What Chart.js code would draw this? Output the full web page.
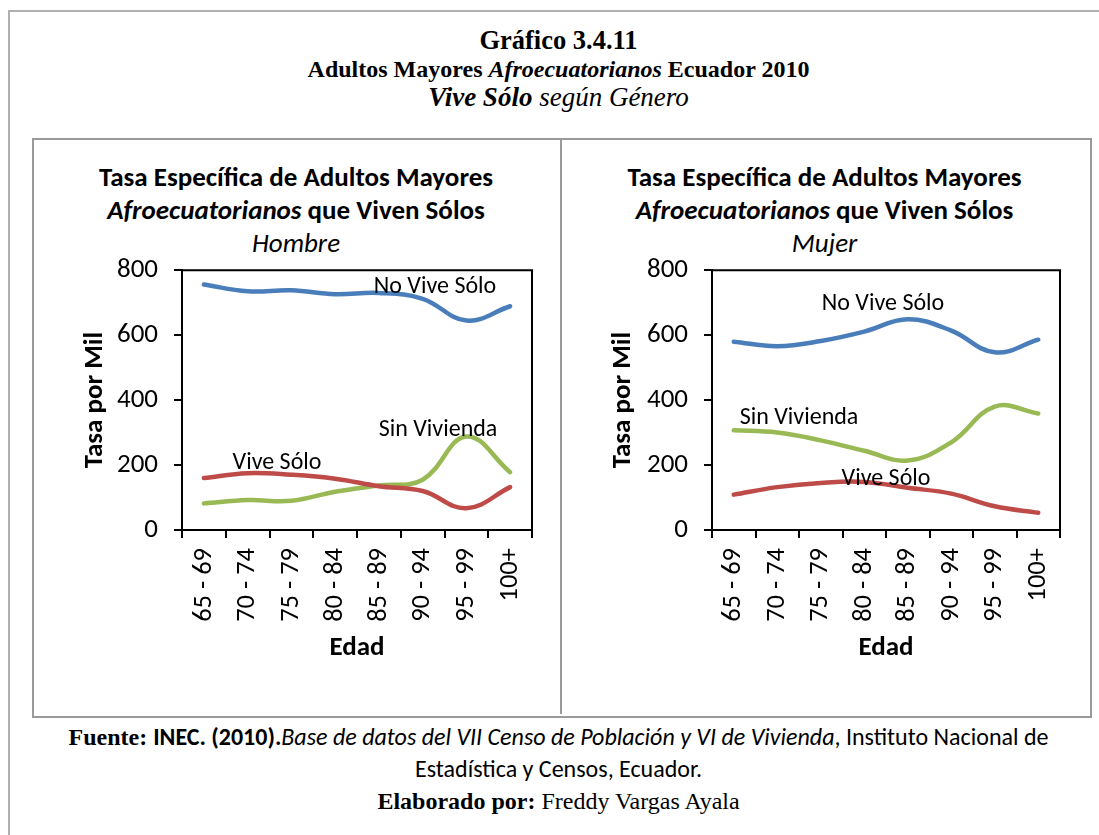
<!DOCTYPE html>
<html>
<head>
<meta charset="utf-8">
<script src="https://cdn.jsdelivr.net/npm/chart.js@4"></script>
<style>
  html, body { margin:0; padding:0; background:#fff; }
  #page { position:relative; width:1099px; height:835px; overflow:hidden; background:#fff; }
  .frame { position:absolute; border:1px solid #a6a6a6; }
  .serif { font-family:"Liberation Serif","Times New Roman",serif; }
  .sans { font-family:Carlito, Lato, "Open Sans", sans-serif; }
  .ctr { position:absolute; left:9px; width:1099px; text-align:center; white-space:nowrap; line-height:30px; height:30px; }
  .lbl { position:absolute; white-space:nowrap; font-family:Carlito, Lato, sans-serif; font-size:24px; color:#000; transform:translate(-50%,-50%); line-height:30px; }
  canvas { position:absolute; }
</style>
</head>
<body>
<div id="page">
  <div class="frame" style="left:8px; top:10px; width:1200px; height:900px; border-color:#b0b0b0; border-width:2px;"></div>
  <div class="frame" style="left:32px; top:138px; width:1056px; height:576px; border-color:#9a9a9a; border-width:2px;"></div>
  <div style="position:absolute; left:560px; top:139px; width:2px; height:575px; background:#9a9a9a;"></div>

  <div class="ctr serif" style="top:25px; font-size:26.5px; font-weight:bold;">Gráfico 3.4.11</div>
  <div class="ctr serif" style="top:54px; font-size:24px; font-weight:bold;">Adultos Mayores <i>Afroecuatorianos</i> Ecuador 2010</div>
  <div class="ctr serif" style="top:82px; font-size:27px; font-style:italic;"><b>Vive Sólo</b> según Género</div>

  <div class="sans" style="position:absolute; left:33px; width:526px; top:160px; text-align:center; font-size:27px; font-weight:bold; line-height:33px;">Tasa Específica de Adultos Mayores<br><i>Afroecuatorianos</i> que Viven Sólos<br><span style="font-weight:normal; font-style:italic;">Hombre</span></div>
  <div class="sans" style="position:absolute; left:561px; width:527px; top:160px; text-align:center; font-size:27px; font-weight:bold; line-height:33px;">Tasa Específica de Adultos Mayores<br><i>Afroecuatorianos</i> que Viven Sólos<br><span style="font-weight:normal; font-style:italic;">Mujer</span></div>

  <canvas id="c1" width="526" height="472" style="left:33px; top:238px;"></canvas>
  <canvas id="c2" width="527" height="472" style="left:561px; top:238px;"></canvas>

  <div class="lbl" style="left:435px; top:285px;">No Vive Sólo</div>
  <div class="lbl" style="left:277px; top:461px;">Vive Sólo</div>
  <div class="lbl" style="left:438px; top:428px;">Sin Vivienda</div>
  <div class="lbl" style="left:883px; top:302px;">No Vive Sólo</div>
  <div class="lbl" style="left:799px; top:416px;">Sin Vivienda</div>
  <div class="lbl" style="left:886px; top:477px;">Vive Sólo</div>

  <div class="ctr" style="top:722px; font-size:24px;"><span class="serif" style="font-weight:bold;">Fuente: </span><span class="sans" style="font-weight:bold;">INEC. (2010).</span><span class="sans" style="font-style:italic;">Base de datos del VII Censo de Población y VI de Vivienda</span><span class="sans">, Instituto Nacional de</span></div>
  <div class="ctr sans" style="top:754px; font-size:24px;">Estadística y Censos, Ecuador.</div>
  <div class="ctr serif" style="top:786px; font-size:24px;"><b>Elaborado por:</b> Freddy Vargas Ayala</div>
</div>
<script>
const categories = ['65 - 69','70 - 74','75 - 79','80 - 84','85 - 89','90 - 94','95 - 99','100+'];
const yTicks = [0, 200, 400, 600, 800];

const hombreNoViveSolo   = [756, 735, 738, 726, 730, 712, 645, 689];
const hombreViveSolo     = [160, 175, 170, 158, 135, 120, 67, 132];
const hombreSinVivienda  = [82, 92, 90, 118, 137, 155, 288, 178];

const mujerNoViveSolo    = [580, 566, 582, 611, 649, 614, 547, 586];
const mujerViveSolo      = [109, 132, 145, 148, 130, 112, 73, 53];
const mujerSinVivienda   = [307, 300, 276, 244, 214, 270, 380, 359];

const BLUE = '#4A7EBB', RED = '#BE4B48', GREEN = '#98B954';
const SANS = 'Carlito, Lato, "Open Sans", sans-serif';

const borderPlugin = {
  id: 'plotBorder',
  afterDraw(chart) {
    const a = chart.chartArea, ctx = chart.ctx;
    ctx.save();
    ctx.strokeStyle = '#000';
    ctx.lineWidth = 2;
    ctx.beginPath();
    ctx.moveTo(a.left, a.top); ctx.lineTo(a.right, a.top); ctx.lineTo(a.right, a.bottom);
    ctx.stroke();
    ctx.restore();
  }
};

function makeChart(id, noVive, vive, sin, yWidth, padRight) {
  const ds = (data, color) => ({
    data, borderColor: color, backgroundColor: color, borderWidth: 4.5,
    pointRadius: 0, tension: 0.4, fill: false, borderCapStyle: 'round'
  });
  return new Chart(document.getElementById(id), {
    type: 'line',
    data: { labels: categories, datasets: [ds(noVive, BLUE), ds(vive, RED), ds(sin, GREEN)] },
    options: {
      responsive: false, animation: false,
      layout: { padding: { top: 13, right: padRight, left: 0, bottom: 0 } },
      plugins: { legend: { display: false }, tooltip: { enabled: false }, title: { display: false } },
      scales: {
        x: {
          offset: true,
          grid: { offset: true, drawOnChartArea: false, tickLength: 8, color: '#000', lineWidth: 2 },
          border: { color: '#000', width: 2 },
          ticks: { color: '#000', minRotation: 90, maxRotation: 90, padding: 10, font: { family: SANS, size: 26.5 }, autoSkip: false },
          title: { display: true, text: 'Edad', color: '#000', font: { family: SANS, size: 27, weight: 'bold' }, padding: { top: 0, bottom: 46 } },
          afterFit(s) { s.height = 180; }
        },
        y: {
          min: 0, max: 800,
          afterBuildTicks(s) { s.ticks = yTicks.map(v => ({ value: v })); },
          grid: { drawOnChartArea: false, tickLength: 8, color: '#000', lineWidth: 2 },
          border: { color: '#000', width: 2 },
          ticks: { color: '#000', padding: 16, font: { family: SANS, size: 27 } },
          title: { display: true, text: 'Tasa por Mil', color: '#000', font: { family: SANS, size: 27, weight: 'bold' }, padding: { top: 46, bottom: 0 } },
          afterFit(s) { s.width = yWidth; }
        }
      }
    },
    plugins: [borderPlugin]
  });
}

makeChart('c1', hombreNoViveSolo, hombreViveSolo, hombreSinVivienda, 149, 27);
makeChart('c2', mujerNoViveSolo, mujerViveSolo, mujerSinVivienda, 151, 28);
</script>
</body>
</html>
